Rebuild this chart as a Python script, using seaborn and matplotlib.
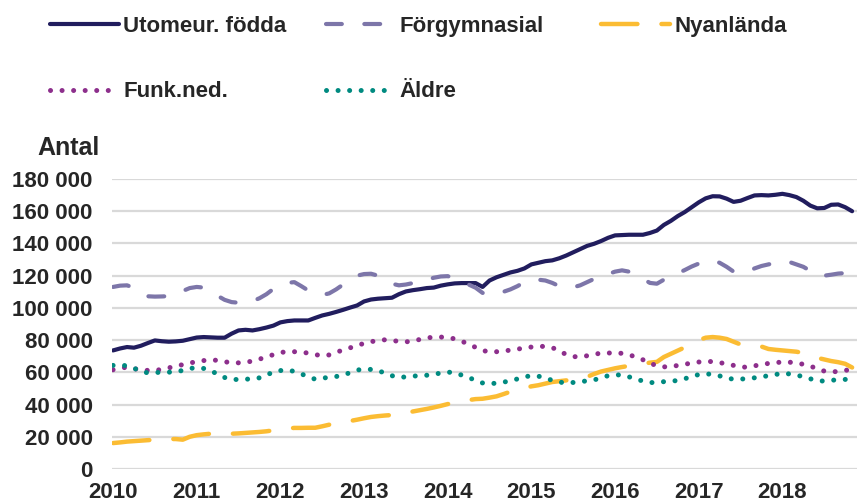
import numpy as np
import pandas as pd
import matplotlib
matplotlib.use("Agg")
from matplotlib import pyplot as plt
from matplotlib.ticker import FuncFormatter
import seaborn as sns

# monthly values, in thousands, Jan 2010 onwards
utomeur = [73.6, 74.8, 75.7, 75.3, 76.5, 78.2, 79.8, 79.3, 79.0, 79.2, 79.6, 80.6,
           81.6, 81.9, 81.7, 81.5, 81.5, 84.0, 86.0, 86.4, 86.0, 86.8, 87.8, 89.0,
           91.0, 91.8, 92.2, 92.2, 92.2, 93.8, 95.3, 96.3, 97.5, 98.8, 100.2, 101.5,
           104.0, 105.2, 105.7, 106.0, 106.3, 108.5, 110.2, 111.0, 111.6, 112.3, 112.6, 113.8,
           114.6, 115.2, 115.4, 115.4, 115.4, 113.0, 117.0, 119.0, 120.5, 122.0, 123.0, 124.5,
           127.0, 128.0, 129.0, 129.5, 130.8, 132.5, 134.5, 136.5, 138.5, 139.8, 141.5, 143.5,
           145.0, 145.2, 145.4, 145.4, 145.4, 146.5, 148.0, 151.5, 154.0, 157.0, 159.5, 162.5,
           165.5, 168.0, 169.3, 169.2, 167.8, 165.8, 166.5, 168.2, 169.8, 170.0, 169.8, 170.2,
           170.8, 170.0, 168.8, 166.5, 163.5, 161.8, 162.0, 164.0, 164.2, 162.5, 160.0]

forgymn = [113.0, 113.8, 114.0, 112.5, 109.5, 107.2, 107.0, 107.1, 107.3, 108.5, 110.5, 112.3,
           113.0, 112.6, 110.0, 107.5, 105.0, 103.6, 103.2, 103.4, 104.2, 106.0, 108.5, 111.8,
           113.5, 115.5, 116.0, 113.5, 110.8, 109.0, 108.0, 109.0, 111.5, 114.5, 117.5, 120.0,
           121.0, 121.2, 120.0, 117.5, 115.0, 114.0, 114.5, 115.4, 116.5, 117.5, 118.7, 119.5,
           119.7, 118.3, 116.5, 114.5, 112.5, 109.3, 108.3, 108.5, 110.0, 111.5, 113.5, 116.0,
           117.5, 117.5, 117.0, 115.5, 113.5, 112.5, 112.8, 114.0, 116.0, 118.0, 119.3, 121.0,
           122.5, 123.3, 122.5, 120.5, 118.0, 115.5, 115.0, 117.5, 119.5, 121.5, 123.5, 125.7,
           127.5, 129.0, 129.5, 128.0, 125.5, 122.5, 122.0, 122.5, 124.5, 126.0, 127.0, 128.0,
           129.0, 128.5, 127.0, 125.5, 123.0, 119.8, 120.0, 120.6, 121.3, 121.6, 121.0]

nyanlanda = [16.1, 16.5, 17.0, 17.3, 17.6, 17.9, 18.2, 18.4, 18.6, 18.6, 18.2, 20.0,
             21.0, 21.5, 21.9, 21.9, 21.9, 21.9, 22.1, 22.4, 22.7, 23.0, 23.4, 24.0,
             24.6, 25.2, 25.5, 25.5, 25.6, 25.6, 26.5, 27.5, 28.3, 29.0, 29.8, 30.6,
             31.5, 32.3, 32.8, 33.2, 33.5, 34.0, 34.8, 35.7, 36.5, 37.3, 38.2, 39.2,
             40.3, 41.2, 42.0, 42.8, 43.4, 43.6, 44.3, 45.1, 46.5, 48.0, 49.0, 50.3,
             51.3, 52.0, 53.0, 54.0, 54.5, 55.0, 55.3, 55.8, 57.2, 59.0, 60.5, 61.5,
             62.5, 63.3, 64.0, 64.7, 65.3, 66.0, 66.5, 69.5, 71.5, 73.5, 75.5, 77.8,
             80.0, 81.5, 81.9, 81.5, 80.7, 79.0, 77.3, 77.0, 76.9, 76.0, 74.5, 74.0,
             73.6, 73.2, 72.8, 72.0, 70.5, 69.0, 68.0, 67.0, 66.3, 65.3, 63.0]

funkned = [61.6, 62.5, 63.2, 62.3, 61.5, 61.2, 61.2, 61.8, 62.8, 63.8, 64.8, 65.8,
           66.6, 67.3, 67.8, 67.4, 66.6, 65.9, 65.9, 66.2, 67.0, 68.2, 69.5, 71.0,
           72.2, 73.0, 72.8, 72.6, 71.9, 71.0, 70.3, 70.8, 72.5, 73.8, 75.2, 76.8,
           77.9, 79.0, 79.8, 80.2, 79.8, 79.2, 78.9, 79.5, 80.4, 81.3, 81.9, 81.9,
           81.6, 80.8, 79.3, 77.5, 75.5, 73.6, 72.6, 72.8, 73.2, 73.8, 74.4, 75.1,
           75.7, 76.1, 76.1, 75.3, 73.4, 71.0, 69.8, 69.5, 70.3, 71.1, 72.0, 72.0,
           72.0, 71.8, 70.9, 69.5, 67.8, 65.8, 64.0, 63.4, 63.5, 64.3, 65.0, 65.8,
           66.4, 66.7, 66.7, 66.0, 65.3, 64.3, 63.3, 63.2, 64.0, 65.0, 65.5, 66.0,
           66.4, 66.3, 65.8, 65.0, 64.0, 62.0, 60.8, 60.2, 60.6, 61.2, 61.8]

aldre = [64.3, 64.6, 64.0, 62.6, 60.5, 59.7, 59.9, 60.0, 60.1, 60.3, 61.2, 62.4,
         62.9, 62.4, 61.0, 58.9, 56.8, 55.5, 55.6, 55.8, 55.8, 56.6, 58.3, 60.2,
         61.1, 61.4, 60.6, 59.0, 57.3, 55.7, 56.3, 57.0, 57.4, 58.3, 59.8, 61.4,
         62.0, 61.8, 61.1, 59.5, 57.9, 56.8, 57.2, 57.7, 57.8, 58.2, 58.7, 59.6,
         60.2, 59.6, 58.3, 56.7, 55.1, 53.4, 52.9, 53.3, 53.9, 54.8, 55.9, 57.2,
         57.9, 57.6, 56.5, 55.0, 53.9, 53.5, 53.7, 54.2, 54.7, 55.3, 56.6, 57.9,
         58.4, 58.4, 57.2, 55.8, 54.6, 53.6, 53.8, 54.2, 54.4, 55.0, 56.0, 57.5,
         58.6, 59.1, 58.7, 57.8, 56.3, 55.8, 55.8, 56.1, 56.6, 57.2, 57.9, 58.6,
         59.5, 59.0, 58.2, 57.4, 56.0, 54.7, 54.6, 55.0, 55.5, 55.6, 55.7]

years = ["2010", "2011", "2012", "2013", "2014", "2015", "2016", "2017", "2018"]

sns.set_style("white")
plt.rcParams["font.family"] = ["Liberation Sans", "DejaVu Sans"]
plt.rcParams["font.weight"] = "bold"
plt.rcParams["lines.dash_capstyle"] = "round"
plt.rcParams["lines.solid_capstyle"] = "round"

df = pd.DataFrame({
    "Utomeur. födda": utomeur,
    "Förgymnasial": forgymn,
    "Nyanlända": nyanlanda,
    "Funk.ned.": funkned,
    "Äldre": aldre,
})
df["month"] = np.arange(len(df))

styles = {
    "Utomeur. födda": dict(color="#211d5e", lw=3.0, dashes=""),
    "Förgymnasial": dict(color="#7d76a9", lw=3.0, dashes=(3.8, 5.4)),
    "Nyanlända": dict(color="#fbbc33", lw=3.2, dashes=(8.2, 5.4)),
    "Funk.ned.": dict(color="#8d2f8c", lw=3.6, dashes=(0.01, 2.3)),
    "Äldre": dict(color="#008a80", lw=3.6, dashes=(0.01, 2.3)),
}

fig = plt.figure(figsize=(8.57, 5.03), dpi=100)
ax = fig.add_axes([112 / 857, 34 / 503, 745 / 857, 290 / 503])

lines = {}
for name, st in styles.items():
    sns.lineplot(data=df, x="month", y=name, ax=ax, color=st["color"], lw=st["lw"], label=name)
    ln = ax.get_lines()[-1]
    if st["dashes"]:
        ln.set_dashes(st["dashes"])
    lines[name] = ln

ax.get_legend().remove()
ax.set_ylim(0, 180)
ax.set_yticks(range(0, 181, 20))
ax.yaxis.set_major_formatter(FuncFormatter(lambda v, p: f"{int(round(v * 1000)):,}".replace(",", " ")))
ax.set_xlim(-0.15, 106.7)
ax.set_xticks(range(0, 12 * len(years), 12))
ax.set_xticklabels(years)
ax.set_xlabel("")
ax.set_ylabel("")
ax.tick_params(axis="y", length=0, pad=14, labelsize=16)
ax.tick_params(axis="x", length=0, pad=9, labelsize=16)
ax.grid(axis="y", color="#d9d9d9", lw=1.6)
ax.set_axisbelow(True)
for s in ax.spines.values():
    s.set_visible(False)

fig.text(37 / 857, 1 - 148 / 503, "Antal", fontsize=18, fontweight="bold", ha="left", va="center")

# one legend per column, placed like the original
columns = [(50, ["Utomeur. födda", "Funk.ned."]),
           (326, ["Förgymnasial", "Äldre"]),
           (601, ["Nyanlända"])]
for x0, names in columns:
    fig.legend([lines[n] for n in names], names, loc="upper left",
               bbox_to_anchor=(x0 / 857, 1 - 16 / 503), frameon=False,
               prop={"size": 16, "weight": "bold"}, handlelength=3.1, handletextpad=0.2,
               labelspacing=2.0, borderpad=0, borderaxespad=0)

fig.savefig("out.png", dpi=100, facecolor="white")
